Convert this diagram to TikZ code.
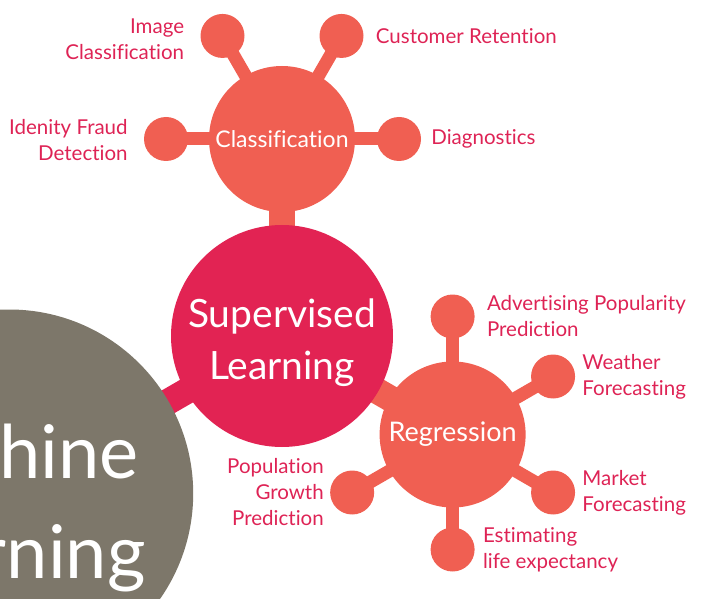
\documentclass[tikz,border=0pt]{standalone}
\usepackage{fontspec}
\setmainfont{Lato}[Ligatures=NoCommon]
\usetikzlibrary{positioning,calc,backgrounds}

\definecolor{coral}{RGB}{240,95,82}
\definecolor{crimson}{RGB}{226,35,83}
\definecolor{slate}{RGB}{125,119,106}
\definecolor{labelred}{RGB}{222,35,85}

\begin{document}
\begin{tikzpicture}[x=1pt, y=1pt, node distance=12pt]
\tikzset{
  hub/.style={circle, fill=coral, text=white, minimum size=146pt, inner sep=0pt,
    font=\fontsize{23}{28}\selectfont},
  core/.style={circle, fill=crimson, minimum size=222pt, inner sep=0pt},
  coretext/.style={text=white, align=center, inner sep=0pt,
    font=\fontsize{39}{52}\selectfont},
  root/.style={circle, fill=slate, minimum size=368pt, inner sep=0pt},
  roottext/.style={text=white, align=center, inner sep=0pt,
    font=\fontsize{74}{100}\selectfont},
  leaf/.style={circle, fill=coral, minimum size=44pt, inner sep=0pt},
  stem/.style={line width=13pt, draw=coral},
  trunk/.style={line width=26pt},
  tag/.style={font=\fontsize{20.5}{26}\selectfont, text=labelred, inner sep=0pt}
}
\clip (0,0) rectangle (704,598);

% hubs
\node[core] (sup) at (282,262) {};
\node[coretext] (suptxt) at ([yshift=-7pt]sup.center) {Supervised\\Learning};
\node[root] (ml) at ($(sup)+(210:315)$) {};
\node[roottext] (mltxt) at ([xshift=-10pt, yshift=-14pt]ml.center) {Machine\\\hspace*{16pt}Learning};
\node[hub] (cls) at ($(sup)+(90:197)$) {Classification};
\node[hub, font=\fontsize{27}{30}\selectfont] (reg) at ($(sup)+(-30:197)$) {Regression};

% classification leaves
\node[leaf] (img) at ($(cls)+(120:119)$) {};
\node[leaf] (cust) at ($(cls)+(60:119)$) {};
\node[leaf] (fraud) at ($(cls)+(180:116)$) {};
\node[leaf] (diag) at ($(cls)+(0:117)$) {};

% regression leaves
\node[leaf] (adv) at ($(reg)+(90:118)$) {};
\node[leaf] (wea) at ($(reg)+(30:116)$) {};
\node[leaf] (mkt) at ($(reg)+(-30:116)$) {};
\node[leaf] (life) at ($(reg)+(-90:115)$) {};
\node[leaf] (pop) at ($(reg)+(-150:116)$) {};

% stems
\begin{scope}[on background layer]
  \draw[stem, trunk, draw=crimson] (sup.center) -- (ml.center);
  \draw[stem, trunk] (sup.center) -- (cls.center);
  \draw[stem, trunk] (sup.center) -- (reg.center);
  \foreach \leafname in {img,cust,fraud,diag}
    \draw[stem] (cls.center) -- (\leafname.center);
  \foreach \leafname in {adv,wea,mkt,life,pop}
    \draw[stem] (reg.center) -- (\leafname.center);
\end{scope}

% labels
\node[tag, left=16pt of img, align=right, yshift=-3pt] (imgtxt) {Image\\Classification};
\node[tag, right=12pt of cust] (custtxt) {Customer Retention};
\node[tag, left=16pt of fraud, align=right, yshift=-1pt] (fraudtxt) {Idenity Fraud\\Detection};
\node[tag, right=10pt of diag] (diagtxt) {Diagnostics};
\node[tag, right=12pt of adv, align=left] (advtxt) {Advertising Popularity\\Prediction};
\node[tag, right=7pt of wea, align=left] (weatxt) {Weather\\Forecasting};
\node[tag, right=7pt of mkt, align=left] (mkttxt) {Market\\Forecasting};
\node[tag, right=8pt of life, align=left] (lifetxt) {Estimating\\life expectancy};
\node[tag, left=6pt of pop, align=right] (poptxt) {Population\\Growth\\Prediction};
\end{tikzpicture}
\end{document}
